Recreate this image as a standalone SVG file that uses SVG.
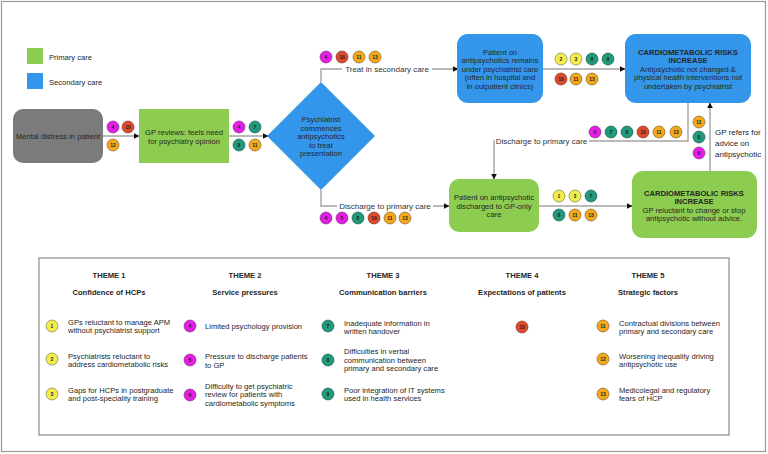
<svg xmlns="http://www.w3.org/2000/svg" width="768" height="454" viewBox="0 0 768 454">
<style>
text{font-family:"Liberation Sans",Arial,sans-serif;fill:#262626}
.t{font-size:7.6px;text-anchor:middle;dominant-baseline:central}
.b{font-weight:bold}
.l{font-size:7.6px;dominant-baseline:central}
.lab{font-size:8px;text-anchor:middle;dominant-baseline:central;fill:#333}
.n{font-size:5px;font-weight:bold;text-anchor:middle;dominant-baseline:central;fill:#222}
.y{fill:#f2ec4c;stroke:#6b6b3a;stroke-width:0.6}
.m{fill:#e41ee6;stroke:#6b2a6b;stroke-width:0.6}
.g{fill:#1f9a7c;stroke:#1d4a3e;stroke-width:0.6}
.r{fill:#e04a2c;stroke:#6a2a20;stroke-width:0.6}
.o{fill:#f4a81c;stroke:#6e5320;stroke-width:0.6}
.pc{fill:#8ccc50}
.sc{fill:#3396ea}
.c{fill:none;stroke:#a3a3a3;stroke-width:1.4}
</style>
<defs>
<marker id="ah" viewBox="0 0 10 10" refX="9" refY="5" markerWidth="6" markerHeight="6" markerUnits="userSpaceOnUse" orient="auto">
<path d="M0,0 L10,5 L0,10 Z" fill="#111"/>
</marker>
</defs>
<rect x="1.5" y="1.5" width="764" height="450" fill="#fff" stroke="#9a9a9a" stroke-width="1.2"/>

<g id="legend">
<rect x="27" y="48" width="16" height="16" class="pc"/>
<text class="l" x="49" y="57">Primary care</text>
<rect x="27" y="73" width="16" height="16" class="sc"/>
<text class="l" x="49" y="82">Secondary care</text>
</g>

<g id="connectors">
<line class="c" x1="103" y1="136" x2="139" y2="136" marker-end="url(#ah)"/>
<line class="c" x1="229" y1="136" x2="268" y2="136" marker-end="url(#ah)"/>
<path class="c" d="M321,82 V69 H458" marker-end="url(#ah)"/>
<rect x="342" y="63" width="90" height="12" fill="#fff"/>
<text class="lab" x="387" y="69">Treat in secondary care</text>
<path class="c" d="M321,190 V206 H449" marker-end="url(#ah)"/>
<rect x="337" y="200" width="96" height="12" fill="#fff"/>
<text class="lab" x="385" y="206">Discharge to primary care</text>
<line class="c" x1="543" y1="69" x2="625" y2="69" marker-end="url(#ah)"/>
<path class="c" d="M688,103 V141 H494 V179" marker-end="url(#ah)"/>
<rect x="495" y="135" width="94" height="12" fill="#fff"/>
<text class="lab" x="541.5" y="141">Discharge to primary care</text>
<line class="c" x1="539" y1="206" x2="632" y2="206" marker-end="url(#ah)"/>
<line class="c" x1="710" y1="171" x2="710" y2="103" marker-end="url(#ah)"/>
<text class="l" x="715" y="132" style="font-size:8px">GP refers for</text>
<text class="l" x="715" y="143" style="font-size:8px">advice on</text>
<text class="l" x="715" y="154" style="font-size:8px">antipsychotic</text>
</g>

<g id="n-mental">
<rect x="13" y="109" width="90" height="54" rx="10" fill="#7b7b7b"/>
<text class="t" x="58" y="136">Mental distress in patient</text>
</g>
<g id="n-gp">
<rect x="139" y="109" width="90" height="54" class="pc"/>
<text class="t" x="184" y="132">GP reviews: feels need</text>
<text class="t" x="184" y="141">for psychiatry opinion</text>
</g>
<g id="n-psych">
<path d="M321,82 L375,136 L321,190 L267,136 Z" class="sc"/>
<text class="t" x="321" y="119">Psychiatrist</text>
<text class="t" x="321" y="128">commences</text>
<text class="t" x="321" y="136.5">antipsychotics</text>
<text class="t" x="321" y="145">to treat</text>
<text class="t" x="321" y="153.5">presentation</text>
</g>
<g id="n-secondary">
<rect x="457" y="34" width="86" height="69" rx="11" class="sc"/>
<text class="t" x="500" y="52">Patient on</text>
<text class="t" x="500" y="60.5">antipsychotics remains</text>
<text class="t" x="500" y="69">under psychiatrist care</text>
<text class="t" x="500" y="77.5">(often in hospital and</text>
<text class="t" x="500" y="86">in outpatient clinics)</text>
</g>
<g id="n-cardio-blue">
<rect x="625" y="34" width="126" height="69" rx="11" class="sc"/>
<text class="t b" x="688" y="52">CARDIOMETABOLIC RISKS</text>
<text class="t b" x="688" y="60.5">INCREASE</text>
<text class="t" x="688" y="69">Antipsychotic not changed &amp;</text>
<text class="t" x="688" y="77.5">physical health interventions not</text>
<text class="t" x="688" y="86">undertaken by psychiatrist</text>
</g>
<g id="n-discharged">
<rect x="449" y="179" width="90" height="53" rx="10" class="pc"/>
<text class="t" x="494" y="197">Patient on antipsychotic</text>
<text class="t" x="494" y="206">discharged to GP-only</text>
<text class="t" x="494" y="214.5">care</text>
</g>
<g id="n-cardio-green">
<rect x="632" y="171" width="125" height="67" rx="11" class="pc"/>
<text class="t b" x="694" y="193">CARDIOMETABOLIC RISKS</text>
<text class="t b" x="694" y="201.5">INCREASE</text>
<text class="t" x="694" y="210">GP reluctant to change or stop</text>
<text class="t" x="694" y="218.5">antipsychotic without advice.</text>
</g>

<g id="badges">
<circle cx="113" cy="127" r="6" class="m"/><text class="n" x="113" y="127">4</text>
<circle cx="128" cy="127" r="6" class="r"/><text class="n" x="128" y="127">10</text>
<circle cx="113" cy="145" r="6" class="o"/><text class="n" x="113" y="145">12</text>

<circle cx="239" cy="127" r="6" class="m"/><text class="n" x="239" y="127">4</text>
<circle cx="255" cy="127" r="6" class="g"/><text class="n" x="255" y="127">7</text>
<circle cx="239" cy="145" r="6" class="g"/><text class="n" x="239" y="145">8</text>
<circle cx="255" cy="145" r="6" class="o"/><text class="n" x="255" y="145">11</text>

<circle cx="326" cy="57" r="6" class="m"/><text class="n" x="326" y="57">4</text>
<circle cx="342" cy="57" r="6" class="r"/><text class="n" x="342" y="57">10</text>
<circle cx="359" cy="57" r="6" class="o"/><text class="n" x="359" y="57">11</text>
<circle cx="375" cy="57" r="6" class="o"/><text class="n" x="375" y="57">13</text>

<circle cx="326" cy="218" r="6" class="m"/><text class="n" x="326" y="218">4</text>
<circle cx="342" cy="218" r="6" class="m"/><text class="n" x="342" y="218">5</text>
<circle cx="358" cy="218" r="6" class="g"/><text class="n" x="358" y="218">8</text>
<circle cx="374" cy="218" r="6" class="r"/><text class="n" x="374" y="218">10</text>
<circle cx="390" cy="218" r="6" class="o"/><text class="n" x="390" y="218">11</text>
<circle cx="405" cy="218" r="6" class="o"/><text class="n" x="405" y="218">13</text>

<circle cx="561" cy="59" r="6" class="y"/><text class="n" x="561" y="59">2</text>
<circle cx="576" cy="59" r="6" class="y"/><text class="n" x="576" y="59">3</text>
<circle cx="592" cy="59" r="6" class="g"/><text class="n" x="592" y="59">8</text>
<circle cx="608" cy="59" r="6" class="g"/><text class="n" x="608" y="59">9</text>
<circle cx="561" cy="79" r="6" class="r"/><text class="n" x="561" y="79">10</text>
<circle cx="576" cy="79" r="6" class="o"/><text class="n" x="576" y="79">11</text>
<circle cx="592" cy="79" r="6" class="o"/><text class="n" x="592" y="79">13</text>

<circle cx="595" cy="132" r="6" class="m"/><text class="n" x="595" y="132">5</text>
<circle cx="611" cy="132" r="6" class="g"/><text class="n" x="611" y="132">7</text>
<circle cx="627" cy="132" r="6" class="g"/><text class="n" x="627" y="132">8</text>
<circle cx="643" cy="132" r="6" class="r"/><text class="n" x="643" y="132">10</text>
<circle cx="659" cy="132" r="6" class="o"/><text class="n" x="659" y="132">11</text>
<circle cx="676" cy="132" r="6" class="o"/><text class="n" x="676" y="132">13</text>

<circle cx="699" cy="122" r="6" class="o"/><text class="n" x="699" y="122">11</text>
<circle cx="699" cy="137" r="6" class="g"/><text class="n" x="699" y="137">8</text>
<circle cx="699" cy="153" r="6" class="m"/><text class="n" x="699" y="153">6</text>

<circle cx="559" cy="196" r="6" class="y"/><text class="n" x="559" y="196">1</text>
<circle cx="575" cy="196" r="6" class="y"/><text class="n" x="575" y="196">3</text>
<circle cx="591" cy="196" r="6" class="g"/><text class="n" x="591" y="196">7</text>
<circle cx="559" cy="215" r="6" class="g"/><text class="n" x="559" y="215">8</text>
<circle cx="575" cy="215" r="6" class="o"/><text class="n" x="575" y="215">11</text>
<circle cx="591" cy="215" r="6" class="o"/><text class="n" x="591" y="215">13</text>
</g>

<g id="themes">
<rect x="39" y="258" width="690" height="177" fill="#fff" stroke="#8a8a8a" stroke-width="1.2"/>
<text class="t b" x="109" y="275">THEME 1</text>
<text class="t b" x="109" y="292">Confidence of HCPs</text>
<text class="t b" x="245" y="275">THEME 2</text>
<text class="t b" x="245" y="292">Service pressures</text>
<text class="t b" x="383" y="275">THEME 3</text>
<text class="t b" x="383" y="292">Communication barriers</text>
<text class="t b" x="522" y="275">THEME 4</text>
<text class="t b" x="522" y="292">Expectations of patients</text>
<text class="t b" x="648" y="275">THEME 5</text>
<text class="t b" x="648" y="292">Strategic factors</text>

<circle cx="52" cy="326" r="6" class="y"/><text class="n" x="52" y="326">1</text>
<circle cx="52" cy="359" r="6" class="y"/><text class="n" x="52" y="359">2</text>
<circle cx="52" cy="394" r="6" class="y"/><text class="n" x="52" y="394">3</text>
<text class="l" x="68" y="322">GPs reluctant to manage APM</text>
<text class="l" x="68" y="330.5">without psychiatrist support</text>
<text class="l" x="68" y="356">Psychiatrists reluctant to</text>
<text class="l" x="68" y="364.5">address cardiometabolic risks</text>
<text class="l" x="68" y="390">Gaps for HCPs in postgraduate</text>
<text class="l" x="68" y="398.5">and post-speciality training</text>

<circle cx="190" cy="326" r="6" class="m"/><text class="n" x="190" y="326">4</text>
<circle cx="190" cy="360" r="6" class="m"/><text class="n" x="190" y="360">5</text>
<circle cx="190" cy="395" r="6" class="m"/><text class="n" x="190" y="395">6</text>
<text class="l" x="205" y="326">Limited psychology provision</text>
<text class="l" x="205" y="356.5">Pressure to discharge patients</text>
<text class="l" x="205" y="365">to GP</text>
<text class="l" x="205" y="386">Difficulty to get psychiatric</text>
<text class="l" x="205" y="394.5">review for patients with</text>
<text class="l" x="205" y="403">cardiometabolic symptoms</text>

<circle cx="328" cy="326" r="6" class="g"/><text class="n" x="328" y="326">7</text>
<circle cx="328" cy="360" r="6" class="g"/><text class="n" x="328" y="360">8</text>
<circle cx="328" cy="394" r="6" class="g"/><text class="n" x="328" y="394">9</text>
<text class="l" x="344" y="323">Inadequate information in</text>
<text class="l" x="344" y="331.5">written handover</text>
<text class="l" x="344" y="351.5">Difficulties in verbal</text>
<text class="l" x="344" y="360">communication between</text>
<text class="l" x="344" y="368.5">primary and secondary care</text>
<text class="l" x="344" y="390">Poor integration of IT systems</text>
<text class="l" x="344" y="398.5">used in health services</text>

<circle cx="522" cy="327" r="6" class="r"/><text class="n" x="522" y="327">10</text>

<circle cx="603" cy="326" r="6" class="o"/><text class="n" x="603" y="326">11</text>
<circle cx="603" cy="359" r="6" class="o"/><text class="n" x="603" y="359">12</text>
<circle cx="603" cy="394" r="6" class="o"/><text class="n" x="603" y="394">13</text>
<text class="l" x="619" y="323">Contractual divisions between</text>
<text class="l" x="619" y="331.5">primary and secondary care</text>
<text class="l" x="619" y="356">Worsening inequality driving</text>
<text class="l" x="619" y="364.5">antipsychotic use</text>
<text class="l" x="619" y="390">Medicolegal and regulatory</text>
<text class="l" x="619" y="398.5">fears of HCP</text>
</g>
</svg>
